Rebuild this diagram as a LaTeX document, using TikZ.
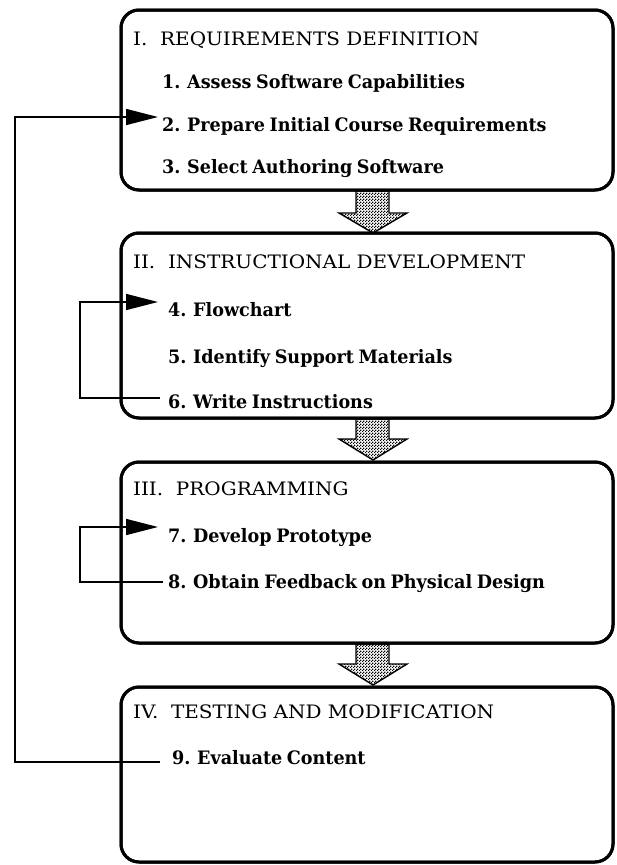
\documentclass[tikz,border=0pt]{standalone}
\usepackage{fontspec}
\setmainfont{DejaVu Serif}[FakeStretch=1.08, BoldFeatures={FakeStretch=0.95, WordSpace=0.75}]
\usetikzlibrary{arrows.meta,patterns}
\pgfdeclarepatternformonly{finecheck}{\pgfpointorigin}{\pgfpoint{2.6pt}{2.6pt}}{\pgfpoint{2.6pt}{2.6pt}}{%
  \pgfpathrectangle{\pgfpointorigin}{\pgfpoint{1.3pt}{1.3pt}}%
  \pgfpathrectangle{\pgfpoint{1.3pt}{1.3pt}}{\pgfpoint{1.3pt}{1.3pt}}%
  \pgfusepath{fill}}
\tikzset{
  phase/.style={draw, line width=3pt, rounded corners=18pt},
  head/.style={anchor=base west, inner sep=0pt, font=\fontsize{18.5}{20}\selectfont},
  item/.style={anchor=base west, inner sep=0pt, font=\fontsize{18.5}{20}\selectfont\bfseries},
  fb/.style={draw, line width=1.6pt},
  fbarrow/.style={fb, -{Triangle[length=32pt,width=16pt]}},
  bigarrow/.style={draw, line width=1.4pt, pattern=finecheck, line join=miter},
}
\begin{document}
\begin{tikzpicture}[x=1pt,y=-1pt]
\useasboundingbox (0,0) rectangle (616,865);
% phase boxes
\path[phase] (121,10) rectangle (613,190) node[pos=0.5, draw=none] (b1) {};
\path[phase] (121,233) rectangle (613,418) node[pos=0.5, draw=none] (b2) {};
\path[phase] (121,462) rectangle (613,643) node[pos=0.5, draw=none] (b3) {};
\path[phase] (121,687) rectangle (613,862) node[pos=0.5, draw=none] (b4) {};
% texts
\node[head] (h1) at (133,45) {I.\ \ REQUIREMENTS DEFINITION};
\node[item] (t1) at (162,88) {1. Assess Software Capabilities};
\node[item] (t2) at (162,131) {2. Prepare Initial Course Requirements};
\node[item] (t3) at (162,173) {3. Select Authoring Software};
\node[head] (h2) at (133,268) {II.\ \ INSTRUCTIONAL DEVELOPMENT};
\node[item] (t4) at (168,316) {4. Flowchart};
\node[item] (t5) at (168,363) {5. Identify Support Materials};
\node[item] (t6) at (168,408) {6. Write Instructions};
\node[head] (h3) at (133,495) {III.\ \ PROGRAMMING};
\node[item] (t7) at (168,542) {7. Develop Prototype};
\node[item] (t8) at (168,588) {8. Obtain Feedback on Physical Design};
\node[head] (h4) at (133,718) {IV.\ \ TESTING AND MODIFICATION};
\node[item] (t9) at (172,764) {9. Evaluate Content};
% big transition arrows
\draw[bigarrow] (356,191) -- (389,191) -- (389,213) -- (407,213) -- (373,233) -- (339,213) -- (356,213) -- cycle;
\draw[bigarrow] (356,419) -- (389,419) -- (389,439) -- (407,439) -- (373,460) -- (339,439) -- (356,439) -- cycle;
\draw[bigarrow] (356,644) -- (389,644) -- (389,664) -- (407,664) -- (373,685) -- (339,664) -- (356,664) -- cycle;
% feedback coordinates
\coordinate (in2) at (158,117);
\coordinate (in4) at (158,302);
\coordinate (out6) at (160,398);
\coordinate (in7) at (158,527);
\coordinate (out8) at (163,582);
\coordinate (out9) at (160,762);
\coordinate (c9) at (15,762);
\coordinate (c2) at (15,117);
\coordinate (c6) at (80,398);
\coordinate (c4) at (80,302);
\coordinate (c8) at (80,582);
\coordinate (c7) at (80,527);
% feedback loops
\draw[fbarrow] (out9) -- (c9) -- (c2) -- (in2);
\draw[fbarrow] (out6) -- (c6) -- (c4) -- (in4);
\draw[fbarrow] (out8) -- (c8) -- (c7) -- (in7);
% redraw box outlines
\draw[phase] (121,10) rectangle (613,190);
\draw[phase] (121,233) rectangle (613,418);
\draw[phase] (121,462) rectangle (613,643);
\draw[phase] (121,687) rectangle (613,862);
\end{tikzpicture}
\end{document}
